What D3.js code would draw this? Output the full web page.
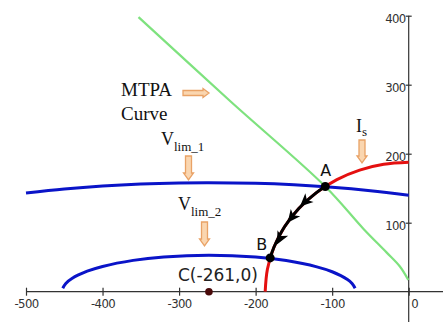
<!DOCTYPE html>
<html>
<head>
<meta charset="utf-8">
<script src="https://cdn.jsdelivr.net/npm/d3@7"></script>
<style>
  body { margin: 0; background: #fff; }
  svg { display: block; }
</style>
</head>
<body>
<div id="chart"></div>
<script>
// tick values
const xTicks = [-500, -400, -300, -200, -100, 0];
const yTicks = [100, 200, 300, 400];

// current limit circle Is
const isCurve = [[0, 187.5], [-32.6, 184.6], [-64.1, 176.2], [-93.8, 162.4], [-120.5, 143.6],
  [-143.6, 120.5], [-162.4, 93.8], [-176.2, 64.1], [-184.6, 32.6], [-187.5, 0]];

// MTPA curve
const mtpaCurve = [[-353, 398], [-233, 276], [-109, 152.5], [-59, 91], [-29, 57], [-11.5, 36.5], [-0.5, 17]];

// voltage limit ellipses
const vlim1 = [[-500, 143], [-450, 148.8], [-400, 153.1], [-350, 156], [-300, 157.6], [-261, 158],
  [-200, 157.1], [-150, 154.9], [-100, 151.4], [-50, 146.4], [0, 139.9]];
const vlim2 = [[-452, 5], [-448, 12], [-440, 19.2], [-420, 29.7], [-400, 36.6], [-360, 45.4], [-320, 50.4],
  [-261, 53], [-200, 50.3], [-160, 45.1], [-120, 36], [-100, 28.9], [-80, 17.7], [-74, 12], [-70, 5]];

// trajectory A -> B
const pathAB = [[-109, 152.5], [-120.5, 143.6], [-143.6, 120.5], [-162.4, 93.8], [-176.2, 64.1], [-181, 49]];
const arrowMarks = [[-135.4, 130.4], [-152.7, 107.8], [-168, 77.4]];

const pointA = [-109, 152.5];
const pointB = [-181, 49];
const pointC = [-261, 0];

const width = 443;
const height = 322;

const x = d3.scaleLinear().domain([-500, 0]).range([26, 408.7]);
const y = d3.scaleLinear().domain([0, 400]).range([291.7, 15.7]);

const svg = d3.select('#chart')
  .append('svg')
  .attr('width', width)
  .attr('height', height);

const line = d3.line()
  .x((d) => x(d[0]))
  .y((d) => y(d[1]))
  .curve(d3.curveCatmullRom);

// axes lines
svg.append('line')
  .attr('x1', x(-500)).attr('x2', width)
  .attr('y1', y(0)).attr('y2', y(0))
  .attr('stroke', '#333').attr('stroke-width', 1.2);
svg.append('line')
  .attr('x1', x(0)).attr('x2', x(0))
  .attr('y1', y(400)).attr('y2', height)
  .attr('stroke', '#333').attr('stroke-width', 1.2);

const xAxis = svg.append('g')
  .attr('transform', `translate(0, ${y(0)})`)
  .call(d3.axisBottom(x).tickValues(xTicks).tickSize(4).tickPadding(3).tickFormat(d3.format('d')));
xAxis.select('.domain').remove();
xAxis.selectAll('line').attr('y1', -4).attr('stroke', '#333').attr('stroke-width', 1.2);
xAxis.selectAll('text')
  .attr('font-family', '"DejaVu Sans Condensed", "DejaVu Sans", sans-serif')
  .attr('font-size', 13)
  .attr('letter-spacing', -0.6)
  .attr('fill', '#333')
  .text((d) => String(d));
xAxis.selectAll('.tick')
  .filter((d) => d === 0)
  .select('text')
  .attr('text-anchor', 'start')
  .attr('x', 2);

const yAxis = svg.append('g')
  .attr('transform', `translate(${x(0)}, 0)`)
  .call(d3.axisLeft(y).tickValues(yTicks).tickSize(3).tickPadding(0));
yAxis.select('.domain').remove();
yAxis.selectAll('line').attr('x2', 3).attr('x1', -3).attr('stroke', '#333').attr('stroke-width', 1.2);
yAxis.selectAll('text')
  .attr('font-family', '"DejaVu Sans Condensed", "DejaVu Sans", sans-serif')
  .attr('font-size', 13)
  .attr('letter-spacing', -0.6)
  .attr('fill', '#333')
  .attr('dy', '0.55em');

// curves
svg.append('path').datum(mtpaCurve)
  .attr('d', line).attr('fill', 'none')
  .attr('stroke', '#7ee27e').attr('stroke-width', 2.2);

svg.append('path').datum(vlim1)
  .attr('d', line).attr('fill', 'none')
  .attr('stroke', '#0a14c8').attr('stroke-width', 3);

svg.append('path').datum(vlim2)
  .attr('d', line).attr('fill', 'none')
  .attr('stroke', '#0a14c8').attr('stroke-width', 3);

svg.append('path').datum(isCurve)
  .attr('d', line).attr('fill', 'none')
  .attr('stroke', '#e41010').attr('stroke-width', 3);

svg.append('path').datum(pathAB)
  .attr('d', line).attr('fill', 'none')
  .attr('stroke', '#000').attr('stroke-width', 3);

// arrowheads along A -> B (tangent of the circle, heading to B)
svg.append('g').selectAll('path')
  .data(arrowMarks)
  .join('path')
  .attr('d', 'M7,0 L-6,-6 L-2.5,0 L-6,6 Z')
  .attr('fill', '#000')
  .attr('transform', (d) => {
    const dx = -d[1] * 0.766;
    const dy = d[0] * 0.69;
    const ang = Math.atan2(-dy, dx) * 180 / Math.PI;
    return `translate(${x(d[0])},${y(d[1])}) rotate(${ang})`;
  });

// points
svg.append('circle').attr('cx', x(pointA[0])).attr('cy', y(pointA[1])).attr('r', 4.5).attr('fill', '#000');
svg.append('circle').attr('cx', x(pointB[0])).attr('cy', y(pointB[1])).attr('r', 4.5).attr('fill', '#000');
svg.append('circle').attr('cx', x(pointC[0])).attr('cy', y(pointC[1])).attr('r', 3.8).attr('fill', '#4a0a0a');

// labels
const sans = '"DejaVu Sans", Verdana, sans-serif';
const serif = '"Liberation Serif", "Times New Roman", serif';

svg.append('text').attr('x', x(pointA[0]) - 5).attr('y', y(pointA[1]) - 10)
  .attr('font-family', sans).attr('font-size', 16).attr('fill', '#111').text('A');
svg.append('text').attr('x', x(pointB[0]) - 14).attr('y', y(pointB[1]) - 8)
  .attr('font-family', sans).attr('font-size', 16).attr('fill', '#111').text('B');
svg.append('text').attr('x', 178).attr('y', 281)
  .attr('font-family', sans).attr('font-size', 17).attr('fill', '#222').text('C(-261,0)');

svg.append('text').attr('x', 121).attr('y', 96)
  .attr('font-family', serif).attr('font-size', 19).attr('fill', '#111').text('MTPA');
svg.append('text').attr('x', 121).attr('y', 120)
  .attr('font-family', serif).attr('font-size', 19).attr('fill', '#111').text('Curve');

function subLabel(px, py, main, sub, shift) {
  const t = svg.append('text').attr('x', px).attr('y', py)
    .attr('font-family', serif).attr('font-size', 18).attr('fill', '#111');
  t.append('tspan').text(main);
  t.append('tspan').attr('font-size', 13).attr('dy', shift).text(sub);
}
subLabel(161, 145, 'V', 'lim_1', 6);
subLabel(178, 210, 'V', 'lim_2', 6);
subLabel(356, 132, 'I', 's', 4);

// orange block arrows
function downArrow(cx, top, bottom) {
  const h = 7;
  const p = [[cx - 3, top], [cx + 3, top], [cx + 3, bottom - h], [cx + 5, bottom - h],
    [cx, bottom], [cx - 5, bottom - h], [cx - 3, bottom - h]];
  svg.append('path').attr('d', 'M' + p.join('L') + 'Z')
    .attr('fill', '#fad6b0').attr('stroke', '#e9a266').attr('stroke-width', 1.3);
}
function rightArrow(left, right, cy) {
  const h = 6;
  const p = [[left, cy - 2.5], [right - h, cy - 2.5], [right - h, cy - 4.5], [right, cy],
    [right - h, cy + 4.5], [right - h, cy + 2.5], [left, cy + 2.5]];
  svg.append('path').attr('d', 'M' + p.join('L') + 'Z')
    .attr('fill', '#fad6b0').attr('stroke', '#e9a266').attr('stroke-width', 1.3);
}
rightArrow(183, 209, 93);
downArrow(188.5, 156, 180);
downArrow(204.5, 222, 246);
downArrow(362, 140, 163);
</script>
</body>
</html>
